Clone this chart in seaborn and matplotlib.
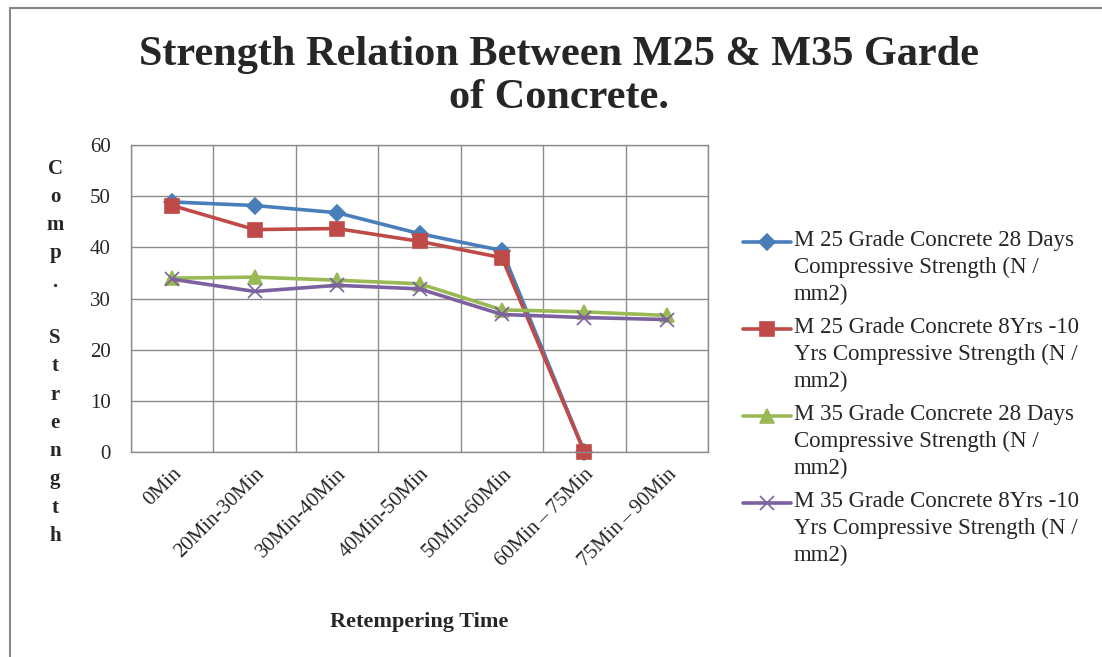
import numpy as np
import pandas as pd
import seaborn as sns
import matplotlib.pyplot as plt
import matplotlib.transforms as mtransforms
from matplotlib.lines import Line2D
from matplotlib.legend_handler import HandlerLine2D

# values
times = ["0Min", "20Min-30Min", "30Min-40Min", "40Min-50Min", "50Min-60Min",
         "60Min\u2009\u2013\u200975Min", "75Min\u2009\u2013\u200990Min"]
m25_28d = [48.9, 48.2, 46.8, 42.7, 39.4, 0.0, np.nan]
m25_8y = [48.2, 43.5, 43.7, 41.2, 38.0, 0.0, np.nan]
m35_28d = [34.0, 34.2, 33.6, 32.9, 27.8, 27.4, 26.7]
m35_8y = [33.8, 31.4, 32.6, 31.9, 26.9, 26.3, 25.9]

labels = [
    "M 25 Grade Concrete 28 Days\nCompressive Strength (N /\nmm2)",
    "M 25 Grade Concrete 8Yrs -10\nYrs Compressive Strength (N /\nmm2)",
    "M 35 Grade Concrete 28 Days\nCompressive Strength (N /\nmm2)",
    "M 35 Grade Concrete 8Yrs -10\nYrs Compressive Strength (N /\nmm2)",
]
series = [m25_28d, m25_8y, m35_28d, m35_8y]
colors = ["#4A7EBB", "#BE4B48", "#98B954", "#7D60A0"]
markers = ["D", "s", "^", "x"]
msizes = [8, 10, 10, 10]


class FirstLineHandler(HandlerLine2D):
    # put the legend handle next to the first line of a 3-line label
    def create_artists(self, legend, orig_handle, xdescent, ydescent,
                       width, height, fontsize, trans):
        arts = super().create_artists(legend, orig_handle, xdescent, ydescent,
                                      width, height, fontsize, trans)
        shift = mtransforms.Affine2D().translate(0, 18.5) + trans
        for a in arts:
            a.set_transform(shift)
        return arts


sns.set_style("white")
plt.rcParams["font.family"] = ["Liberation Serif", "DejaVu Serif"]

fig = plt.figure(figsize=(11.02, 6.57), dpi=100)
ax = fig.add_axes([0.1189, 0.312, 0.5236, 0.467])

pos = np.arange(len(times))
for vals, lab, c, m, ms in zip(series, labels, colors, markers, msizes):
    df = pd.DataFrame({"pos": pos, "strength": vals}).dropna()
    sns.lineplot(data=df, x="pos", y="strength", ax=ax, color=c, marker=m,
                 markersize=ms, markeredgecolor=c, markeredgewidth=1.2,
                 linewidth=2.6, label=lab, sort=False)

grid_c = "#8C8C8C"
ax.set_xlim(-0.5, len(times) - 0.5)
ax.set_ylim(0, 60)
ax.set_yticks(range(0, 61, 10))
ax.set_xticks(pos)
ax.set_xticklabels(times, rotation=45, ha="right", va="top",
                   rotation_mode="anchor", fontsize=15)
ax.set_xticks(np.arange(-0.5, len(times), 1), minor=True)
ax.tick_params(axis="x", which="major", length=0, pad=9)
ax.tick_params(axis="x", which="minor", length=5, color=grid_c, direction="out")
ax.tick_params(axis="y", length=5.5, color=grid_c, direction="out", labelsize=15, pad=9)
ax.grid(True, axis="y", which="major", color=grid_c, linewidth=1)
ax.grid(True, axis="x", which="minor", color=grid_c, linewidth=1)
ax.grid(False, axis="x", which="major")
for s in ax.spines.values():
    s.set_color(grid_c)
    s.set_linewidth(1)
ax.set_xlabel("")
ax.set_ylabel("")
for line in ax.lines:
    line.set_clip_on(False)

handles, labs = ax.get_legend_handles_labels()
leg = ax.legend(handles, labs, loc="upper left", bbox_to_anchor=(0.664, 0.667),
                bbox_transform=fig.transFigure, frameon=False, fontsize=16.5,
                borderpad=0, handlelength=2.1, handletextpad=0.1, labelspacing=0.52,
                handler_map={h: FirstLineHandler() for h in handles})
for t in leg.get_texts():
    t.set_linespacing(1.36)

fig.text(0.507, 0.8836, "Strength Relation Between M25 & M35 Garde\nof Concrete.",
         ha="center", va="center", fontsize=30.4, fontweight="bold", linespacing=1.18)
fig.text(0.380, 0.053, "Retempering Time", ha="center", va="center",
         fontsize=16, fontweight="bold")
fig.text(0.05, 0.464, "C\no\nm\np\n.\n\nS\nt\nr\ne\nn\ng\nt\nh", ha="center",
         va="center", fontsize=15, fontweight="bold", linespacing=1.55)

# chart-area border (only top and left edges show in the picture)
fig.lines.append(Line2D([10 / 1102, 1.0], [1 - 8 / 657, 1 - 8 / 657],
                        transform=fig.transFigure, color="#888888", linewidth=1.5))
fig.lines.append(Line2D([10 / 1102, 10 / 1102], [0.0, 1 - 8 / 657],
                        transform=fig.transFigure, color="#888888", linewidth=1.5))

fig.savefig("out.png", dpi=100)
